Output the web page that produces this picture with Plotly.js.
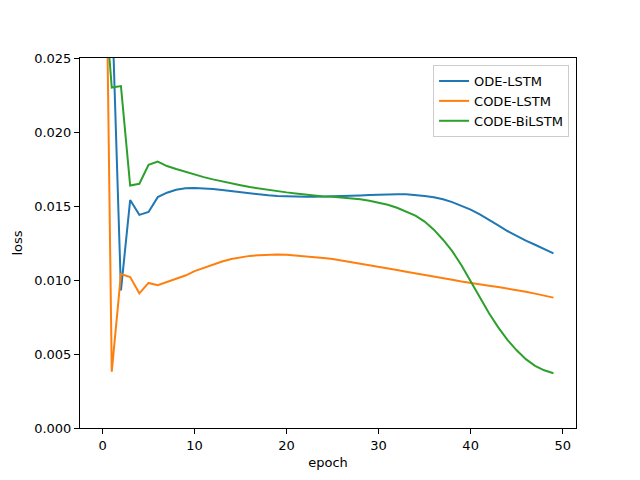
<!DOCTYPE html>
<html>
<head>
<meta charset="utf-8">
<script src="https://cdn.plot.ly/plotly-3.0.1.min.js"></script>
<style>
  body { margin: 0; background: #fff; }
  #chart { width: 640px; height: 480px; }
</style>
</head>
<body>
<div id="chart"></div>
<script>
// loss per epoch
var epochs = []
for (var i = 0; i < 50; i++) epochs.push(i)

var odeLstm = [
    0.0600, 0.0290, 0.0093, 0.0154, 0.0144, 0.0146, 0.0156, 0.0159, 0.0161, 0.01620,
    0.01622, 0.01620, 0.01615, 0.01608, 0.01600, 0.01592, 0.01585, 0.01578, 0.01572, 0.01567,
    0.01564, 0.01563, 0.01562, 0.01562, 0.01563, 0.01564, 0.01566, 0.01568, 0.01571, 0.01574,
    0.01577, 0.01579, 0.01580, 0.01579, 0.01575, 0.01568, 0.01559, 0.01546, 0.01526, 0.01503,
    0.01476, 0.01443, 0.01408, 0.01369, 0.01331, 0.01297, 0.01266, 0.01238, 0.01211, 0.01180
]

var codeLstm = [
    0.0510, 0.0038, 0.0104, 0.0102, 0.0091, 0.0098, 0.00965, 0.00985, 0.01005, 0.01030,
    0.01060, 0.01083, 0.01105, 0.01125, 0.01142, 0.01155, 0.01163, 0.01168, 0.01171, 0.01172,
    0.01170, 0.01166, 0.01161, 0.01155, 0.01149, 0.01142, 0.01132, 0.01121, 0.01110, 0.01099,
    0.01088, 0.01077, 0.01067, 0.01056, 0.01046, 0.01035, 0.01024, 0.01013, 0.01002, 0.00990,
    0.00979, 0.00970, 0.00961, 0.00952, 0.00943, 0.00934, 0.00921, 0.00908, 0.00894, 0.00881
]

var codeBiLstm = [
    0.0310, 0.0230, 0.0231, 0.01638, 0.0165, 0.01778, 0.0180, 0.01770, 0.01750, 0.01730,
    0.01712, 0.01695, 0.01680, 0.01665, 0.01652, 0.01640, 0.01628, 0.01618, 0.01610, 0.01600,
    0.01592, 0.01585, 0.01577, 0.01570, 0.01565, 0.01562, 0.01558, 0.01552, 0.01545, 0.01535,
    0.01523, 0.01508, 0.01488, 0.01462, 0.01435, 0.01395, 0.01340, 0.01272, 0.01195, 0.01100,
    0.00990, 0.00880, 0.00775, 0.00680, 0.00595, 0.00525, 0.00465, 0.00420, 0.00390, 0.00370
]

var names = ["ODE-LSTM", "CODE-LSTM", "CODE-BiLSTM"]
var colors = ["#1f77b4", "#ff7f0e", "#2ca02c"]
var series = [odeLstm, codeLstm, codeBiLstm]

var data = []
for (var k = 0; k < series.length; k++) {
    data.push({
        x: epochs,
        y: series[k],
        name: names[k],
        type: 'scatter',
        mode: 'lines',
        line: { color: colors[k], width: 2 }
    })
}

var axisStyle = {
    showline: true,
    mirror: true,
    linecolor: '#000',
    linewidth: 1,
    ticks: 'outside',
    ticklen: 5,
    tickwidth: 1,
    tickcolor: '#000',
    showgrid: false,
    zeroline: false,
    tickfont: { size: 13, color: '#000' }
}

var layout = {
    width: 640,
    height: 480,
    margin: { l: 80, r: 64, t: 58, b: 52 },
    paper_bgcolor: '#fff',
    plot_bgcolor: '#fff',
    font: { family: 'DejaVu Sans', size: 13, color: '#000' },
    showlegend: true,
    legend: {
        x: 0.986, y: 0.981,
        xanchor: 'right', yanchor: 'top',
        bgcolor: '#fff',
        bordercolor: '#cccccc',
        borderwidth: 1,
        itemwidth: 30,
        font: { size: 13 },
        tracegroupgap: 0
    },
    xaxis: Object.assign({}, axisStyle, {
        range: [-2.45, 51.45],
        tickvals: [0, 10, 20, 30, 40, 50],
        title: { text: 'epoch', font: { size: 13 }, standoff: 6 }
    }),
    yaxis: Object.assign({}, axisStyle, {
        range: [0, 0.025],
        tickvals: [0, 0.005, 0.01, 0.015, 0.02, 0.025],
        tickformat: '.3f',
        title: { text: 'loss', font: { size: 13 }, standoff: 8 }
    })
}

Plotly.newPlot('chart', data, layout, { displayModeBar: false, staticPlot: true })
</script>
</body>
</html>
